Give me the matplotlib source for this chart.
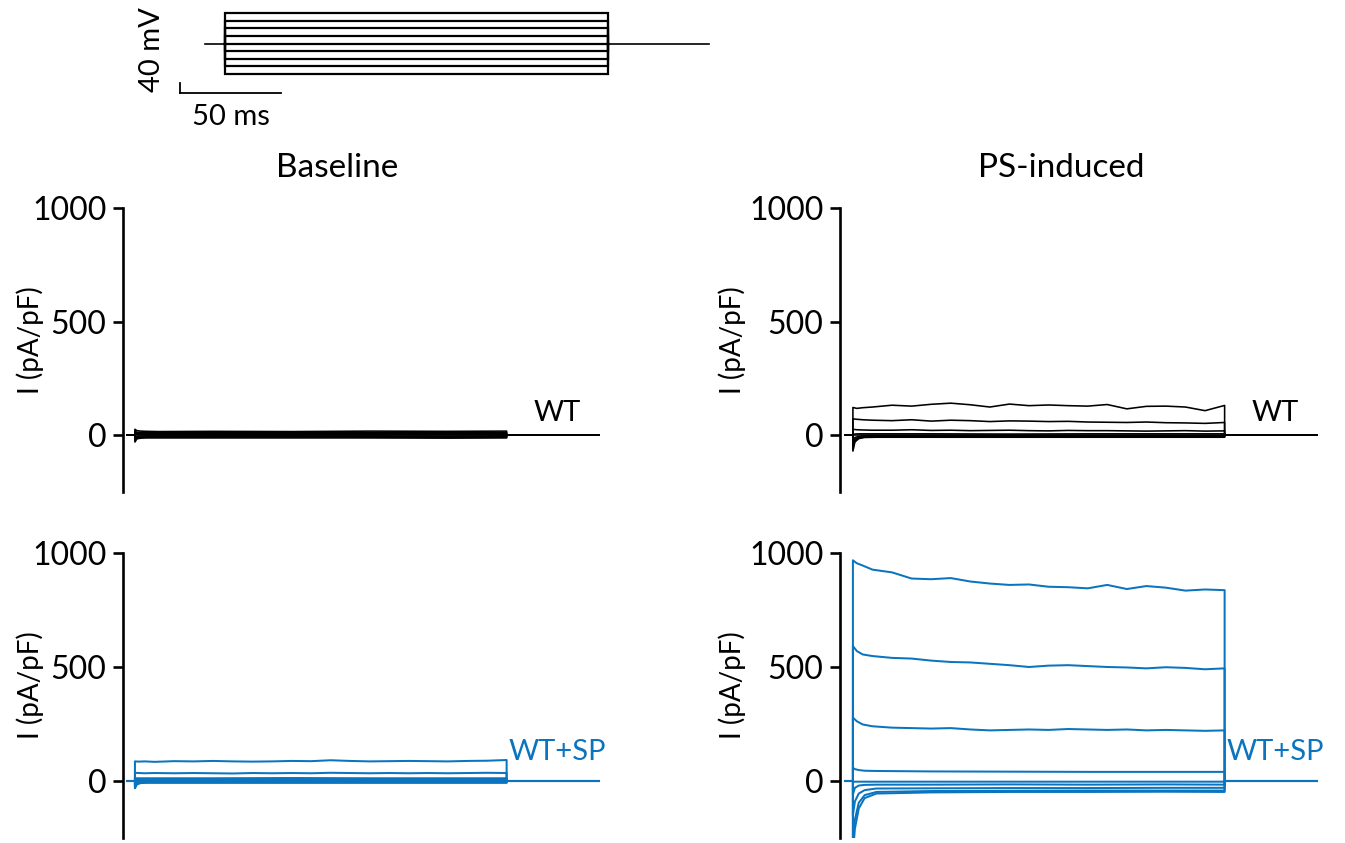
import matplotlib
matplotlib.use("Agg")
import matplotlib.pyplot as plt
import numpy as np

plt.rcParams['font.family'] = ['Lato', 'DejaVu Sans']

BLACK = '#000000'
BLUE = '#0b74bf'

# ---------------- voltage protocol ----------------
pulse_ms = 190
pre_ms = 10
post_ms = 50
holding_mv = 0
step_levels_mv = [-80, -60, -40, -20, 0, 20, 40, 60, 80]
hbar_ms = 50
vbar_mv = 25

# ---------------- current traces (pA/pF) ----------------
t_fine = [0, 2, 5, 10, 20, 30, 40, 50, 60, 70, 80, 90, 100, 110, 120, 130, 140, 150, 160, 170, 180, 190]
t_flat = [0, 1, 3, 6, 12, 40, 80, 120, 160, 190]
t_pre = -4
t_post = 237
hold_current = 0

# Baseline, WT
base_wt_1 = [26, 20, 18, 17, 16, 17, 16, 18, 17, 18]
base_wt_2 = [18, 13, 12, 11, 11, 12, 11, 12, 11, 12]
base_wt_3 = [12, 8, 7, 7, 7, 7, 8, 7, 7, 8]
base_wt_4 = [7, 4, 3, 3, 3, 3, 3, 4, 3, 3]
base_wt_5 = [0, 0, 0, 0, 0, 0, 0, 0, 0, 0]
base_wt_6 = [-10, -5, -4, -3, -3, -3, -3, -3, -4, -3]
base_wt_7 = [-18, -9, -7, -7, -6, -7, -6, -7, -6, -7]
base_wt_8 = [-24, -12, -10, -9, -9, -9, -8, -9, -9, -9]
base_wt_9 = [-30, -16, -13, -12, -12, -12, -12, -12, -13, -12]

# PS-induced, WT
ps_wt_1 = [122, 118, 121, 124, 132, 128, 136, 141, 134, 124, 137, 130, 133, 130, 128, 135, 116, 127, 128, 124, 108, 131]
ps_wt_2 = [72, 70, 68, 66, 64, 68, 62, 66, 64, 60, 63, 62, 60, 61, 58, 57, 56, 58, 55, 54, 52, 56]
ps_wt_3 = [26, 24, 23, 22, 22, 24, 21, 22, 20, 21, 22, 20, 19, 21, 20, 20, 19, 18, 19, 20, 18, 19]
ps_wt_4 = [4, 5, 6, 6, 6, 6, 5, 6, 6, 6]
ps_wt_5 = [0, 0, 0, 0, 0, 0, 0, 0, 0, 0]
ps_wt_6 = [-30, -10, -5, -3, -2, -2, -2, -2, -2, -2]
ps_wt_7 = [-45, -18, -9, -6, -5, -5, -5, -5, -5, -5]
ps_wt_8 = [-60, -25, -12, -8, -7, -7, -7, -7, -7, -7]
ps_wt_9 = [-70, -30, -15, -10, -9, -9, -9, -9, -9, -9]

# Baseline, WT+SP
base_sp_1 = [86, 85, 86, 84, 87, 86, 88, 86, 85, 86, 88, 87, 91, 88, 86, 87, 88, 87, 86, 88, 89, 92]
base_sp_2 = [36, 35, 34, 35, 34, 35, 34, 33, 35, 34, 35, 34, 36, 35, 34, 35, 34, 35, 34, 35, 36, 35]
base_sp_3 = [12, 12, 12, 12, 12, 12, 13, 12, 12, 12]
base_sp_4 = [6, 5, 5, 5, 5, 5, 5, 5, 5, 5]
base_sp_5 = [0, 0, 0, 0, 0, 0, 0, 0, 0, 0]
base_sp_6 = [-15, -6, -3, -2, -2, -2, -2, -2, -2, -2]
base_sp_7 = [-22, -9, -5, -4, -4, -4, -4, -4, -4, -4]
base_sp_8 = [-28, -12, -7, -6, -6, -6, -6, -6, -6, -6]
base_sp_9 = [-32, -15, -9, -8, -8, -8, -8, -8, -8, -8]

# PS-induced, WT+SP
ps_sp_1 = [968, 955, 945, 927, 915, 888, 885, 890, 875, 866, 860, 862, 852, 850, 845, 860, 842, 855, 848, 835, 840, 837]
ps_sp_2 = [592, 570, 555, 548, 540, 537, 528, 522, 520, 514, 508, 500, 506, 508, 504, 500, 498, 494, 499, 496, 490, 494]
ps_sp_3 = [278, 262, 248, 240, 234, 232, 230, 232, 226, 222, 224, 226, 224, 228, 226, 224, 226, 222, 224, 222, 220, 222]
ps_sp_4 = [58, 52, 48, 45, 44, 42, 41, 40, 40, 40]
ps_sp_5 = [-4, -3, -3, -3, -3, -3, -3, -3, -3, -3]
ps_sp_6 = [-60, -30, -20, -17, -16, -16, -15, -16, -15, -16]
ps_sp_7 = [-150, -90, -55, -40, -33, -32, -31, -31, -30, -30]
ps_sp_8 = [-260, -170, -95, -62, -48, -44, -43, -42, -42, -42]
ps_sp_9 = [-320, -210, -120, -75, -55, -50, -48, -48, -47, -48]

panel_titles = ['Baseline', 'PS-induced']
group_labels = ['WT', 'WT+SP']
ytick_values = [0, 500, 1000]
ytick_labels = ['0', '500', '1000']
ylabel_text = 'I (pA/pF)'

panels = {
    (0, 0): ([(t_flat, base_wt_1), (t_flat, base_wt_2), (t_flat, base_wt_3), (t_flat, base_wt_4),
              (t_flat, base_wt_5), (t_flat, base_wt_6), (t_flat, base_wt_7), (t_flat, base_wt_8),
              (t_flat, base_wt_9)], BLACK),
    (0, 1): ([(t_fine, ps_wt_1), (t_fine, ps_wt_2), (t_fine, ps_wt_3), (t_flat, ps_wt_4),
              (t_flat, ps_wt_5), (t_flat, ps_wt_6), (t_flat, ps_wt_7), (t_flat, ps_wt_8),
              (t_flat, ps_wt_9)], BLACK),
    (1, 0): ([(t_fine, base_sp_1), (t_fine, base_sp_2), (t_flat, base_sp_3), (t_flat, base_sp_4),
              (t_flat, base_sp_5), (t_flat, base_sp_6), (t_flat, base_sp_7), (t_flat, base_sp_8),
              (t_flat, base_sp_9)], BLUE),
    (1, 1): ([(t_fine, ps_sp_1), (t_fine, ps_sp_2), (t_fine, ps_sp_3), (t_flat, ps_sp_4),
              (t_flat, ps_sp_5), (t_flat, ps_sp_6), (t_flat, ps_sp_7), (t_flat, ps_sp_8),
              (t_flat, ps_sp_9)], BLUE),
}

W, H = 1345, 843
fig = plt.figure(figsize=(W / 100, H / 100), dpi=100)


def px_rect(x0, y0, x1, y1):
    return [x0 / W, 1 - y1 / H, (x1 - x0) / W, (y1 - y0) / H]


# ---------------- protocol inset ----------------
axp = fig.add_axes(px_rect(170, 5, 720, 100))
axp.set_xlim(-27.3, 245.5)
axp.set_ylim(-148.2, 101.8)
axp.axis('off')
axp.plot([-pre_ms, pulse_ms + post_ms], [holding_mv, holding_mv], color=BLACK, lw=1.2)
for v in step_levels_mv:
    axp.plot([0, 0, pulse_ms, pulse_ms], [holding_mv, v, v, holding_mv], color=BLACK, lw=1.6,
             solid_joinstyle='miter')
sb_x0, sb_y0 = -22.3, -129.7
axp.plot([sb_x0, sb_x0 + hbar_ms], [sb_y0, sb_y0], color=BLACK, lw=1.3)
axp.plot([sb_x0, sb_x0], [sb_y0, sb_y0 + vbar_mv], color=BLACK, lw=1.3)
fig.text(152 / W, 1 - 50 / H, '40 mV', rotation=90, ha='center', va='center', fontsize=21)
fig.text(231 / W, 1 - 117 / H, '50 ms', ha='center', va='center', fontsize=21)

# ---------------- current panels ----------------
col_x = [(123, 624), (840, 1342)]
col_xlim = [(-6.1, 250), (-6.6, 250)]
row_y = [(208, 492), (553, 838)]

for (r, c), (traces, color) in panels.items():
    x0, x1 = col_x[c]
    y0, y1 = row_y[r]
    ax = fig.add_axes(px_rect(x0, y0, x1, y1))
    ax.set_xlim(*col_xlim[c])
    ax.set_ylim(-250, 1000)
    lw = 1.15 if color == BLACK else 1.45
    for tt, vv in traces:
        xs = np.concatenate([[t_pre, 0], tt, [pulse_ms, t_post]])
        ys = np.concatenate([[hold_current, hold_current], vv, [hold_current, hold_current]])
        ax.plot(xs, ys, color=color, lw=lw)
    for s in ['top', 'right', 'bottom']:
        ax.spines[s].set_visible(False)
    ax.spines['left'].set_linewidth(1.9)
    ax.set_xticks([])
    ax.set_yticks(ytick_values)
    ax.set_yticklabels(ytick_labels)
    ax.tick_params(axis='y', length=7, width=1.9, pad=5, labelsize=23)
    ax.patch.set_alpha(0)
    ax.text(216, 97 if r == 0 else 127, group_labels[r], color=color, ha='center', va='center',
            fontsize=21)
    ylab_x = [30, 732][c]
    ylab_y = (y0 + y1) / 2 - 10
    fig.text(ylab_x / W, 1 - ylab_y / H, ylabel_text, rotation=90, ha='center', va='center',
             fontsize=20)

fig.text(337 / W, 1 - 168 / H, panel_titles[0], ha='center', va='center', fontsize=24)
fig.text(1061 / W, 1 - 168 / H, panel_titles[1], ha='center', va='center', fontsize=24)

fig.savefig('out.png', dpi=100)
